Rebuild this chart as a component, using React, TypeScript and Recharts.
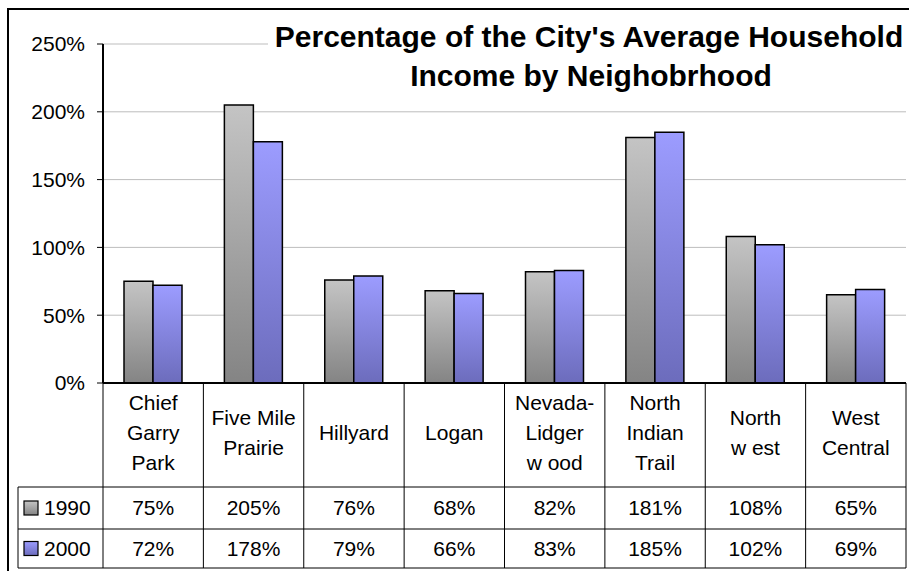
import { BarChart, Bar, XAxis, YAxis, CartesianGrid } from "recharts";

// Neighbourhood income as % of city average (values from the data table)
const categories = [
  "Chief\nGarry\nPark",
  "Five Mile\nPrairie",
  "Hillyard",
  "Logan",
  "Nevada-\nLidger\nw ood",
  "North\nIndian\nTrail",
  "North\nw est",
  "West\nCentral",
];
const income1990 = [75, 205, 76, 68, 82, 181, 108, 65];
const income2000 = [72, 178, 79, 66, 83, 185, 102, 69];
const seriesNames = ["1990", "2000"];
const yTicks = [0, 50, 100, 150, 200, 250];
const titleLines = [
  "Percentage of the City's Average Household",
  "Income by Neighobrhood",
];

const data = categories.map((name, i) => ({
  name,
  y1990: income1990[i],
  y2000: income2000[i],
}));

const FONT = "'Liberation Sans', Arial, sans-serif";
const W = 909;
const H = 571;
const PLOT_LEFT = 103;
const PLOT_RIGHT = 906;
const BAND = (PLOT_RIGHT - PLOT_LEFT) / categories.length;
const LEGEND_LEFT = 18;

function TableTick(props: any) {
  const { y, payload } = props;
  const idx: number = payload.index;
  const cx: number = payload.coordinate;
  const left = cx - BAND / 2;
  const right = cx + BAND / 2;
  const lines = String(payload.value).split("\n");
  const labelMid = y + 50;
  const row1 = y + 104;
  const row2 = y + 146;
  const bottom = y + 185;
  const row1Mid = (row1 + row2) / 2;
  const row2Mid = (row2 + bottom) / 2;
  const txt = { fontFamily: FONT, fontSize: 21, fill: "#000" };

  return (
    <g>
      {idx === 0 && (
        <g>
          <line x1={LEGEND_LEFT} x2={PLOT_RIGHT} y1={row1} y2={row1} stroke="#000" strokeWidth={1} />
          <line x1={LEGEND_LEFT} x2={PLOT_RIGHT} y1={row2} y2={row2} stroke="#000" strokeWidth={1} />
          <line x1={LEGEND_LEFT} x2={PLOT_RIGHT} y1={bottom} y2={bottom} stroke="#000" strokeWidth={1} />
          <line x1={LEGEND_LEFT} x2={LEGEND_LEFT} y1={row1} y2={bottom} stroke="#000" strokeWidth={1} />
          <rect x={24} y={row1Mid - 7} width={14} height={14} fill="url(#g1990)" stroke="#000" strokeWidth={1.2} />
          <text x={44} y={row1Mid} dy="0.355em" {...txt}>{seriesNames[0]}</text>
          <rect x={24} y={row2Mid - 7} width={14} height={14} fill="url(#g2000)" stroke="#000" strokeWidth={1.2} />
          <text x={44} y={row2Mid} dy="0.355em" {...txt}>{seriesNames[1]}</text>
        </g>
      )}
      <line x1={left} x2={left} y1={y} y2={bottom} stroke="#000" strokeWidth={1} />
      {idx === categories.length - 1 && (
        <line x1={right} x2={right} y1={y} y2={bottom} stroke="#000" strokeWidth={1} />
      )}
      {lines.map((ln, i) => (
        <text
          key={i}
          x={cx}
          y={labelMid + (i - (lines.length - 1) / 2) * 30}
          dy="0.355em"
          textAnchor="middle"
          {...txt}
        >
          {ln}
        </text>
      ))}
      <text x={cx} y={row1Mid} dy="0.355em" textAnchor="middle" {...txt}>
        {income1990[idx]}%
      </text>
      <text x={cx} y={row2Mid} dy="0.355em" textAnchor="middle" {...txt}>
        {income2000[idx]}%
      </text>
    </g>
  );
}

export default function App() {
  return (
    <div
      style={{
        position: "absolute",
        left: 0,
        top: 0,
        width: W,
        height: H,
        overflow: "hidden",
        background: "#fff",
      }}
    >
      <div
        style={{
          position: "absolute",
          left: 7,
          top: 8,
          width: 1000,
          height: 1000,
          borderLeft: "2px solid #000",
          borderTop: "2px solid #000",
          boxSizing: "border-box",
        }}
      />
      <div style={{ position: "absolute", left: 0, top: 0 }}>
        <BarChart
          width={W}
          height={H}
          data={data}
          margin={{ top: 44, right: W - PLOT_RIGHT, left: 8, bottom: 3 }}
          barGap={0}
          barSize={29}
        >
          <defs>
            <linearGradient id="g1990" x1="0" y1="0" x2="0" y2="1">
              <stop offset="0%" stopColor="#c4c4c4" />
              <stop offset="100%" stopColor="#848484" />
            </linearGradient>
            <linearGradient id="g2000" x1="0" y1="0" x2="0" y2="1">
              <stop offset="0%" stopColor="#9c9cff" />
              <stop offset="100%" stopColor="#6c6cbc" />
            </linearGradient>
          </defs>
          <CartesianGrid vertical={false} stroke="#bdbdbd" strokeWidth={1} />
          <XAxis
            dataKey="name"
            height={185}
            interval={0}
            tickLine={false}
            tickSize={0}
            tickMargin={0}
            axisLine={{ stroke: "#000", strokeWidth: 2 }}
            tick={<TableTick />}
          />
          <YAxis
            width={95}
            domain={[0, 250]}
            ticks={yTicks}
            interval={0}
            tickFormatter={(v: number) => `${v}%`}
            tickSize={6}
            tickMargin={12}
            axisLine={{ stroke: "#000", strokeWidth: 2 }}
            tickLine={{ stroke: "#000" }}
            tick={{ fontFamily: FONT, fontSize: 21, fill: "#000" }}
          />
          <Bar
            dataKey="y1990"
            name={seriesNames[0]}
            fill="url(#g1990)"
            stroke="#000"
            strokeWidth={1.5}
            isAnimationActive={false}
          />
          <Bar
            dataKey="y2000"
            name={seriesNames[1]}
            fill="url(#g2000)"
            stroke="#000"
            strokeWidth={1.5}
            isAnimationActive={false}
          />
        </BarChart>
      </div>
      <svg
        width={W}
        height={H}
        style={{ position: "absolute", left: 0, top: 0, pointerEvents: "none" }}
      >
        <rect x={268} y={18} width={W - 268} height={80} fill="#fff" />
        <text
          x={589}
          y={47}
          textAnchor="middle"
          fontFamily={FONT}
          fontWeight="bold"
          fontSize={30}
          fill="#000"
        >
          {titleLines[0]}
        </text>
        <text
          x={591}
          y={86}
          textAnchor="middle"
          fontFamily={FONT}
          fontWeight="bold"
          fontSize={30}
          fill="#000"
        >
          {titleLines[1]}
        </text>
      </svg>
    </div>
  );
}
